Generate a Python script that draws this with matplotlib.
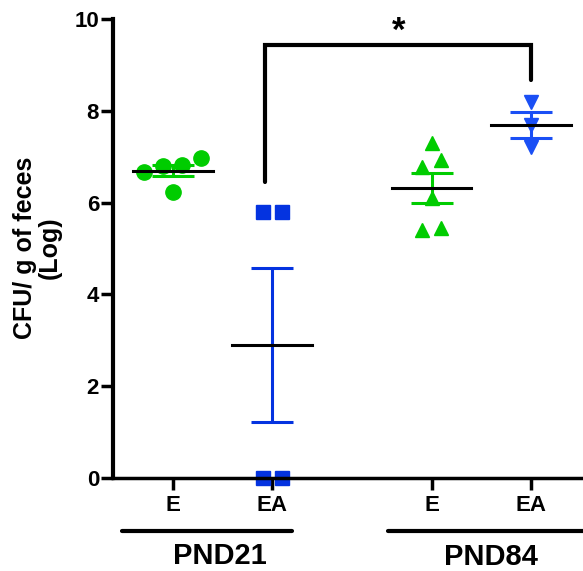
import matplotlib.pyplot as plt
import numpy as np

plt.rcParams['font.family'] = ['Liberation Sans', 'DejaVu Sans']
plt.rcParams['font.weight'] = 'bold'

# Data (log CFU / g of feces)
tick_labels = ['E', 'EA', 'E', 'EA']
ages = ['PND21', 'PND84']
pnd21_e = [6.97, 6.82, 6.80, 6.67, 6.23]
pnd21_ea = [5.80, 5.80, 0.0, 0.0]
pnd84_e = [7.30, 6.93, 6.78, 6.10, 5.45, 5.40]
pnd84_ea = [8.19, 7.68, 7.21]

series = [pnd21_e, pnd21_ea, pnd84_e, pnd84_ea]
positions = [0, 1, 2.6, 3.6]
colors = ['#00CC00', '#0433E0', '#00CC00', '#1A4FF5']
markers = ['o', 's', '^', 'v']
msizes = [11, 9.5, 10.5, 10.5]


def swarm_offsets(vals, ythr=0.34, step=0.19):
    # spread points with close values side by side, like a prism scatter
    vals = np.asarray(vals)
    order = np.argsort(-vals, kind='stable')
    clusters = []
    for i in order:
        if clusters and vals[clusters[-1][0]] - vals[i] < ythr:
            clusters[-1].append(i)
        else:
            clusters.append([i])
    offs = np.zeros(len(vals))
    for c in clusters:
        c = sorted(c, key=lambda k: vals[k])
        n = len(c)
        for j, k in enumerate(c):
            offs[k] = (j - (n - 1) / 2) * step
    return offs


fig = plt.figure(figsize=(5.83, 5.71), dpi=100)
ax = fig.add_axes([113 / 583, 93 / 571, 470 / 583, 459 / 571])

for vals, x, c, m, ms in zip(series, positions, colors, markers, msizes):
    vals = np.asarray(vals)
    xs = x + swarm_offsets(vals)
    ax.plot(xs, vals, ls='none', marker=m, ms=ms, color=c, mec=c,
            clip_on=False, zorder=2)
    mean = vals.mean()
    sem = vals.std(ddof=1) / np.sqrt(len(vals))
    ax.errorbar(x, mean, yerr=sem, fmt='none', ecolor=c, elinewidth=2.2,
                capsize=15, capthick=2.2, zorder=3)
    ax.plot([x - 0.4, x + 0.4], [mean, mean], color='black', lw=2.2, zorder=4)

# significance bracket
bx1, bx2 = 0.93, positions[3]
ax.plot([bx1, bx1, bx2, bx2], [6.45, 9.43, 9.43, 8.67], color='black', lw=3,
        solid_joinstyle='miter', solid_capstyle='round', clip_on=False)
ax.text((bx1 + bx2) / 2, 9.52, '*', ha='center', va='baseline', fontsize=25,
        fontweight='bold')

ax.set_xlim(-0.6, 4.12)
ax.set_ylim(0, 10)
ax.set_yticks([0, 2, 4, 6, 8, 10])
ax.set_xticks(positions)
ax.set_xticklabels(tick_labels)
for s in ['top', 'right']:
    ax.spines[s].set_visible(False)
ax.spines['left'].set_linewidth(3)
ax.spines['bottom'].set_linewidth(2.5)
ax.tick_params(axis='y', length=9, width=2.5, pad=1, labelsize=16)
ax.tick_params(axis='x', length=8.5, width=2.5, pad=4, labelsize=16)
for lab in ax.get_xticklabels() + ax.get_yticklabels():
    lab.set_fontweight('bold')

# age group underlines and labels
trans = ax.get_xaxis_transform()
ax.plot([-0.51, 1.2], [-0.115, -0.115], transform=trans, color='black', lw=3,
        solid_capstyle='round', clip_on=False)
ax.plot([2.16, 4.3], [-0.115, -0.115], transform=trans, color='black', lw=3,
        solid_capstyle='round', clip_on=False)
ax.text(0.47, -0.17, ages[0], transform=trans, ha='center', va='center',
        fontsize=21, fontweight='bold')
ax.text(3.2, -0.172, ages[1], transform=trans, ha='center', va='center',
        fontsize=21, fontweight='bold')

fig.text(0.064, 0.566, 'CFU/ g of feces\n(Log)', rotation=90, ha='center',
         va='center', multialignment='center', fontsize=18, fontweight='bold',
         linespacing=1.05)

fig.savefig('out.png', dpi=100)
